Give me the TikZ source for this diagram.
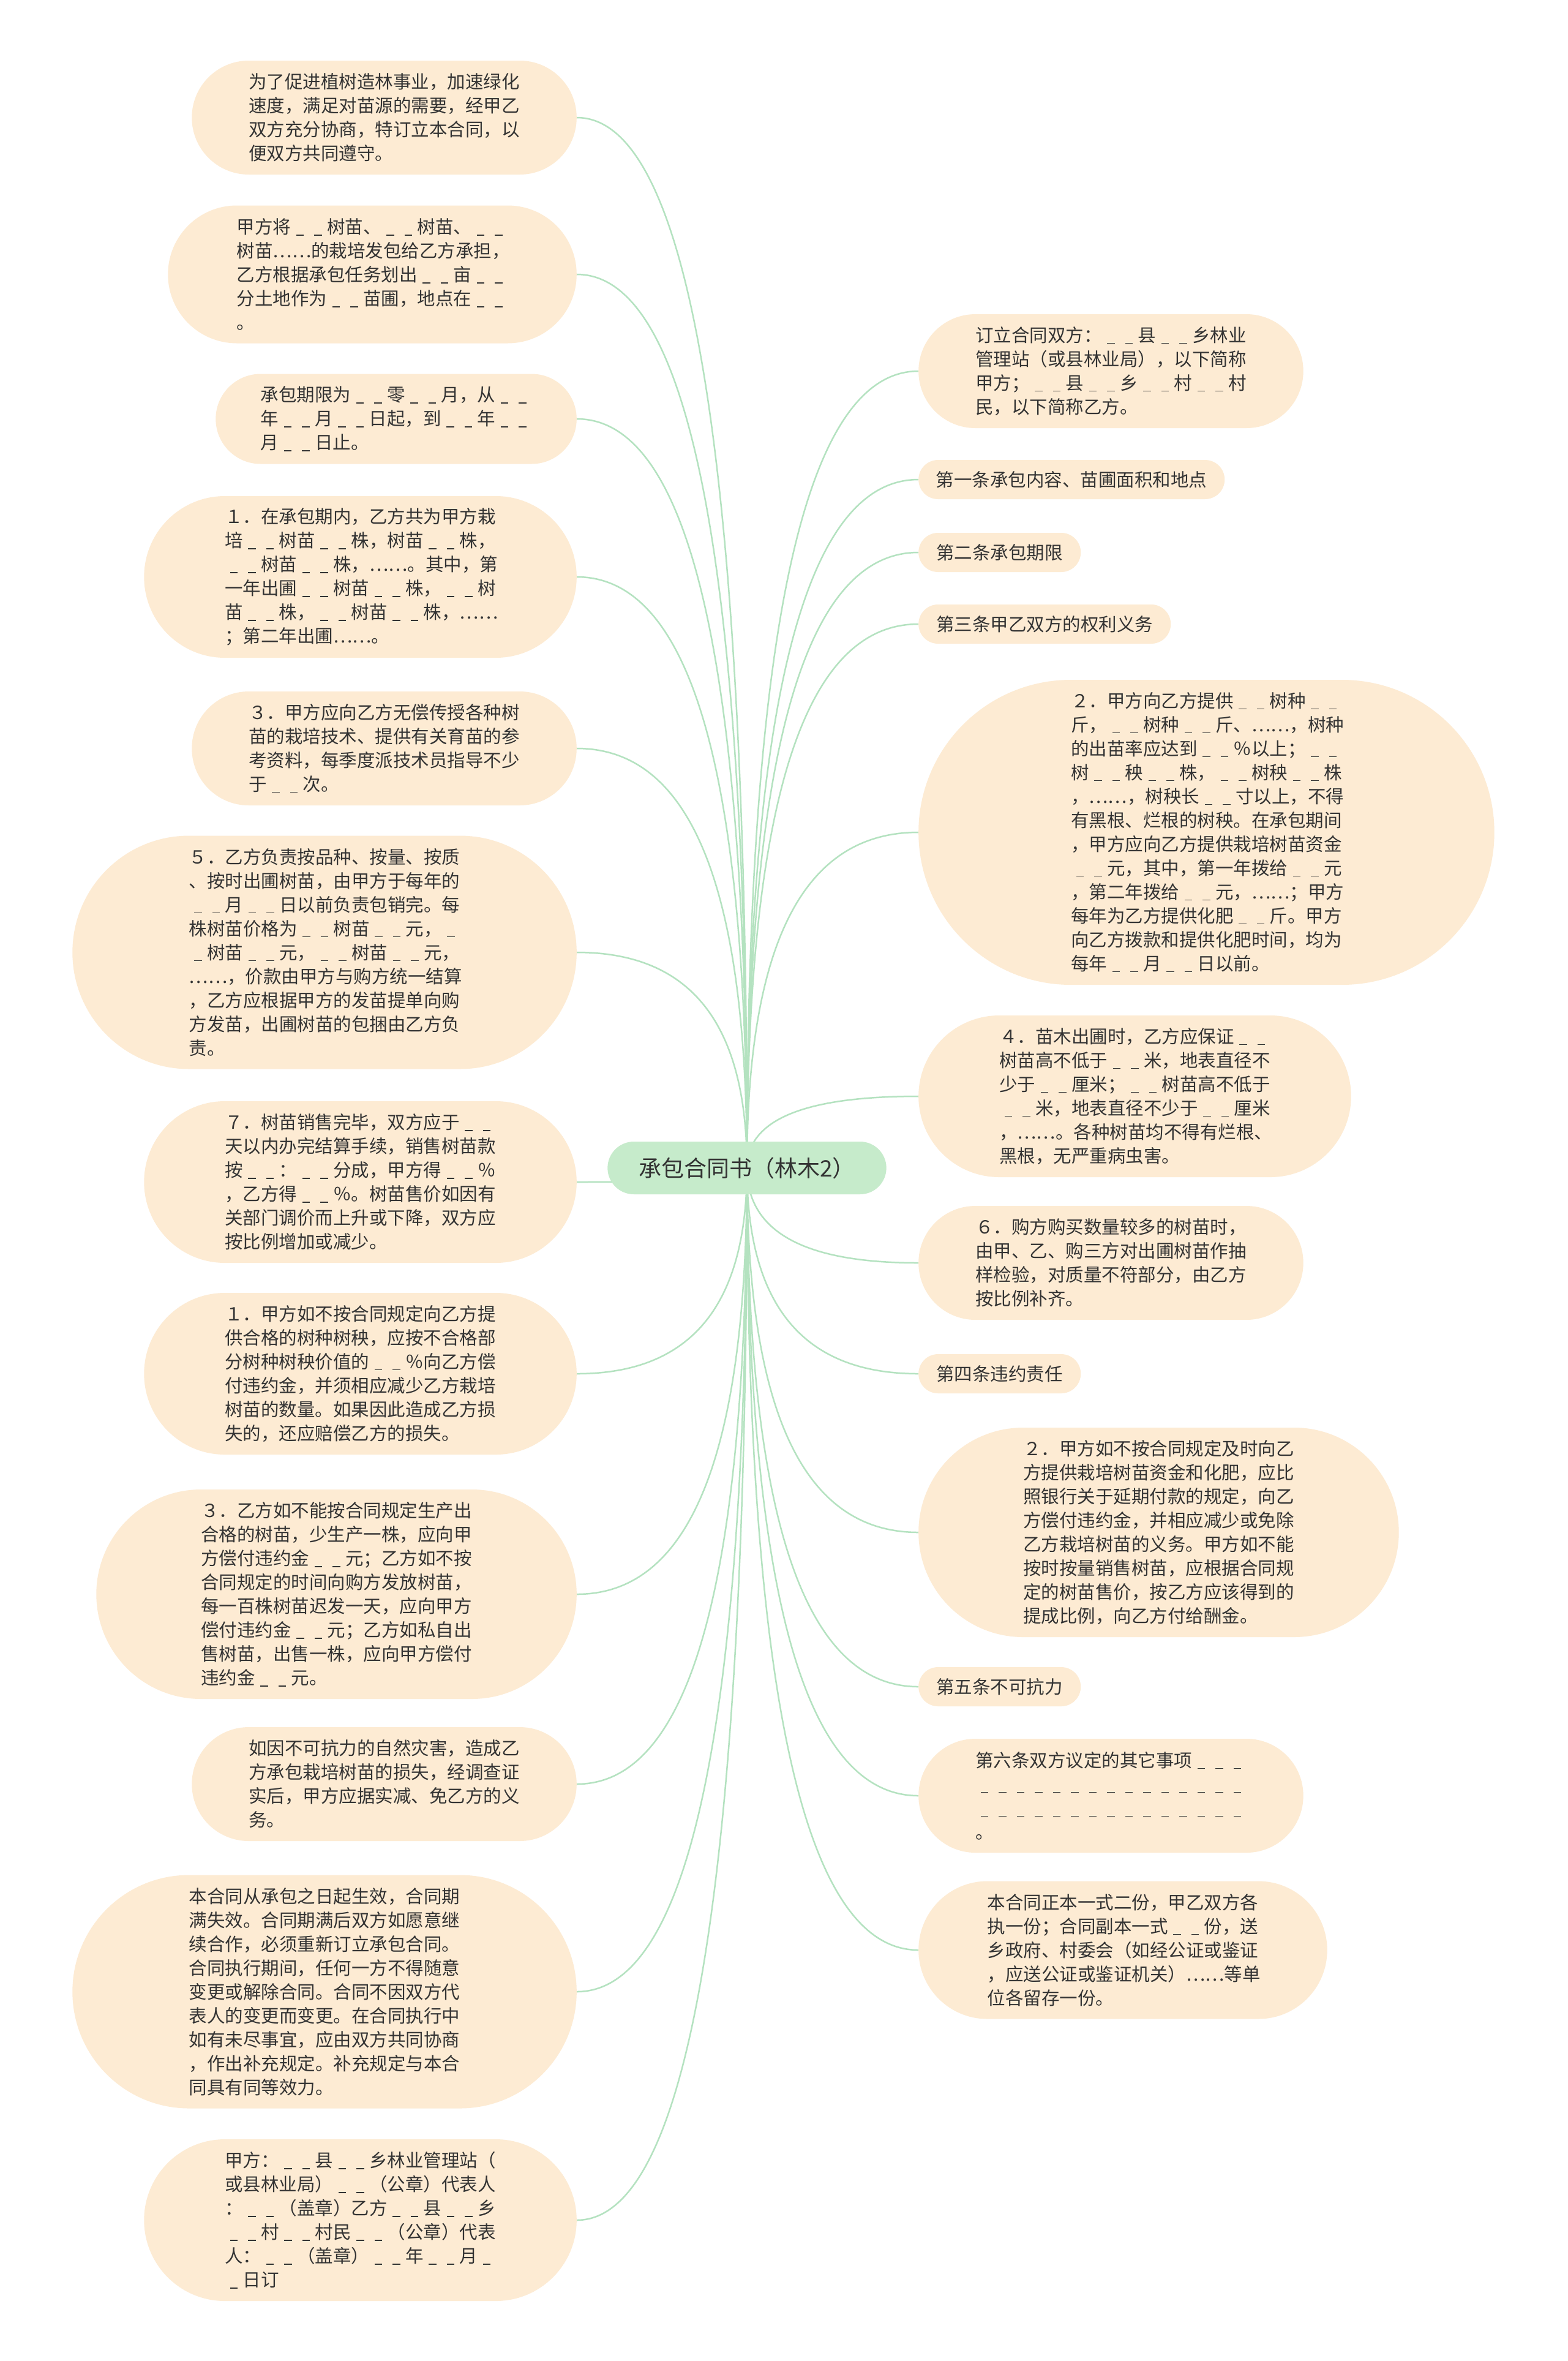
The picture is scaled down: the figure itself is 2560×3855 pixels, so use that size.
\documentclass[tikz,border=0pt]{standalone}
\usepackage{fontspec}
\setmainfont{Noto Sans CJK SC}
\usetikzlibrary{shapes.misc, calc, backgrounds}
\definecolor{leaffill}{HTML}{FDEBD3}
\definecolor{topicfill}{HTML}{C6EBCB}
\definecolor{branchline}{HTML}{B4E2C0}
\definecolor{inktext}{HTML}{333333}
% blanks to fill in: one and two slots
\newcommand\sbl{\makebox[1em]{\rule[-0.1em]{0.42em}{0.05em}}}
\newcommand\dbl{\sbl\sbl}

\begin{document}
\begin{tikzpicture}[x=1pt, y=-1pt,
    leaf/.style={rounded rectangle, fill=leaffill, text=inktext, inner xsep=6pt, inner ysep=4pt,
        minimum height=64pt, minimum width=#1, font=\fontsize{29.5pt}{39pt}\selectfont},
    para/.style={leaf={484.5pt+39pt*#1}, text width=442.5pt, align=left, minimum height={39pt*#1+30pt}},
    topic/.style={rounded rectangle, fill=topicfill, text=inktext, minimum height=86pt, minimum width=462pt,
        font=\fontsize{37pt}{44pt}\selectfont},
    branch/.style={draw=branchline, line width=2.5pt}]
    \useasboundingbox (0,0) rectangle (2560,3855);

    % Centre
    \node[topic] (root) at (1220,1907) {承包合同书（林木2）};

    % Left side
    \node[para=4, anchor=east] (l1) at (942,192) {为了促进植树造林事业，加速绿化\\速度，满足对苗源的需要，经甲乙\\双方充分协商，特订立本合同，以\\便双方共同遵守。};
    \node[para=5, anchor=east] (l2) at (942,448) {甲方将\dbl{}树苗、\dbl{}树苗、\dbl{}\\树苗……的栽培发包给乙方承担，\\乙方根据承包任务划出\dbl{}亩\dbl{}\\分土地作为\dbl{}苗圃，地点在\dbl{}\\。};
    \node[para=3, anchor=east] (l3) at (942,684) {承包期限为\dbl{}零\dbl{}月，从\dbl{}\\年\dbl{}月\dbl{}日起，到\dbl{}年\dbl{}\\月\dbl{}日止。};
    \node[para=6, anchor=east] (l4) at (942,942) {１．在承包期内，乙方共为甲方栽\\培\dbl{}树苗\dbl{}株，树苗\dbl{}株，\\\dbl{}树苗\dbl{}株，……。其中，第\\一年出圃\dbl{}树苗\dbl{}株，\dbl{}树\\苗\dbl{}株，\dbl{}树苗\dbl{}株，……\\；第二年出圃……。};
    \node[para=4, anchor=east] (l5) at (942,1222) {３．甲方应向乙方无偿传授各种树\\苗的栽培技术、提供有关育苗的参\\考资料，每季度派技术员指导不少\\于\dbl{}次。};
    \node[para=9, anchor=east] (l6) at (942,1555) {５．乙方负责按品种、按量、按质\\、按时出圃树苗，由甲方于每年的\\\dbl{}月\dbl{}日以前负责包销完。每\\株树苗价格为\dbl{}树苗\dbl{}元，\sbl{}\\\sbl{}树苗\dbl{}元，\dbl{}树苗\dbl{}元，\\……，价款由甲方与购方统一结算\\，乙方应根据甲方的发苗提单向购\\方发苗，出圃树苗的包捆由乙方负\\责。};
    \node[para=6, anchor=east] (l7) at (942,1930) {７．树苗销售完毕，双方应于\dbl{}\\天以内办完结算手续，销售树苗款\\按\dbl{}：\dbl{}分成，甲方得\dbl{}％\\，乙方得\dbl{}％。树苗售价如因有\\关部门调价而上升或下降，双方应\\按比例增加或减少。};
    \node[para=6, anchor=east] (l8) at (942,2243) {１．甲方如不按合同规定向乙方提\\供合格的树种树秧，应按不合格部\\分树种树秧价值的\dbl{}％向乙方偿\\付违约金，并须相应减少乙方栽培\\树苗的数量。如果因此造成乙方损\\失的，还应赔偿乙方的损失。};
    \node[para=8, anchor=east] (l9) at (942,2603) {３．乙方如不能按合同规定生产出\\合格的树苗，少生产一株，应向甲\\方偿付违约金\dbl{}元；乙方如不按\\合同规定的时间向购方发放树苗，\\每一百株树苗迟发一天，应向甲方\\偿付违约金\dbl{}元；乙方如私自出\\售树苗，出售一株，应向甲方偿付\\违约金\dbl{}元。};
    \node[para=4, anchor=east] (l10) at (942,2913) {如因不可抗力的自然灾害，造成乙\\方承包栽培树苗的损失，经调查证\\实后，甲方应据实减、免乙方的义\\务。};
    \node[para=9, anchor=east] (l11) at (942,3252) {本合同从承包之日起生效，合同期\\满失效。合同期满后双方如愿意继\\续合作，必须重新订立承包合同。\\合同执行期间，任何一方不得随意\\变更或解除合同。合同不因双方代\\表人的变更而变更。在合同执行中\\如有未尽事宜，应由双方共同协商\\，作出补充规定。补充规定与本合\\同具有同等效力。};
    \node[para=6, anchor=east] (l12) at (942,3625) {甲方：\dbl{}县\dbl{}乡林业管理站（\\或县林业局）\dbl{}（公章）代表人\\：\dbl{}（盖章）乙方\dbl{}县\dbl{}乡\\\dbl{}村\dbl{}村民\dbl{}（公章）代表\\人：\dbl{}（盖章）\dbl{}年\dbl{}月\sbl{}\\\sbl{}日订};

    % Right side
    \node[para=4, anchor=west] (r1) at (1500,606) {订立合同双方：\dbl{}县\dbl{}乡林业\\管理站（或县林业局），以下简称\\甲方；\dbl{}县\dbl{}乡\dbl{}村\dbl{}村\\民，以下简称乙方。};
    \node[leaf=512pt, anchor=west] (r2) at (1500,783) {第一条承包内容、苗圃面积和地点};
    \node[leaf=277pt, anchor=west] (r3) at (1500,902) {第二条承包期限};
    \node[leaf=424pt, anchor=west] (r4) at (1500,1019) {第三条甲乙双方的权利义务};
    \node[para=12, anchor=west] (r5) at (1500,1359) {２．甲方向乙方提供\dbl{}树种\dbl{}\\斤，\dbl{}树种\dbl{}斤、……，树种\\的出苗率应达到\dbl{}％以上；\dbl{}\\树\dbl{}秧\dbl{}株，\dbl{}树秧\dbl{}株\\，……，树秧长\dbl{}寸以上，不得\\有黑根、烂根的树秧。在承包期间\\，甲方应向乙方提供栽培树苗资金\\\dbl{}元，其中，第一年拨给\dbl{}元\\，第二年拨给\dbl{}元，……；甲方\\每年为乙方提供化肥\dbl{}斤。甲方\\向乙方拨款和提供化肥时间，均为\\每年\dbl{}月\dbl{}日以前。};
    \node[para=6, anchor=west] (r6) at (1500,1790) {４．苗木出圃时，乙方应保证\dbl{}\\树苗高不低于\dbl{}米，地表直径不\\少于\dbl{}厘米；\dbl{}树苗高不低于\\\dbl{}米，地表直径不少于\dbl{}厘米\\，……。各种树苗均不得有烂根、\\黑根，无严重病虫害。};
    \node[para=4, anchor=west] (r7) at (1500,2062) {６．购方购买数量较多的树苗时，\\由甲、乙、购三方对出圃树苗作抽\\样检验，对质量不符部分，由乙方\\按比例补齐。};
    \node[leaf=277pt, anchor=west] (r8) at (1500,2243) {第四条违约责任};
    \node[para=8, anchor=west] (r9) at (1500,2502) {２．甲方如不按合同规定及时向乙\\方提供栽培树苗资金和化肥，应比\\照银行关于延期付款的规定，向乙\\方偿付违约金，并相应减少或免除\\乙方栽培树苗的义务。甲方如不能\\按时按量销售树苗，应根据合同规\\定的树苗售价，按乙方应该得到的\\提成比例，向乙方付给酬金。};
    \node[leaf=277pt, anchor=west] (r10) at (1500,2754) {第五条不可抗力};
    \node[para=4, anchor=west] (r11) at (1500,2932) {第六条双方议定的其它事项\dbl\sbl{}\\\dbl\dbl\dbl\dbl\dbl\dbl\dbl\sbl{}\\\dbl\dbl\dbl\dbl\dbl\dbl\dbl\sbl{}\\。};
    \node[para=5, anchor=west] (r12) at (1500,3184) {本合同正本一式二份，甲乙双方各\\执一份；合同副本一式\dbl{}份，送\\乡政府、村委会（如经公证或鉴证\\，应送公证或鉴证机关）……等单\\位各留存一份。};

    % Branches
    \begin{scope}[on background layer]
        \fill[white] (0,0) rectangle (2560,3855);
        \foreach \i in {1,...,12} {
            \draw[branch] (root.center) .. controls ($(root.center)!0.67!(root.center |- l\i.east)$)
                and ($(l\i.east)!0.67!(root.center |- l\i.east)$) .. (l\i.east);
            \draw[branch] (root.center) .. controls ($(root.center)!0.67!(root.center |- r\i.west)$)
                and ($(r\i.west)!0.67!(root.center |- r\i.west)$) .. (r\i.west);
        }
    \end{scope}
\end{tikzpicture}
\end{document}
